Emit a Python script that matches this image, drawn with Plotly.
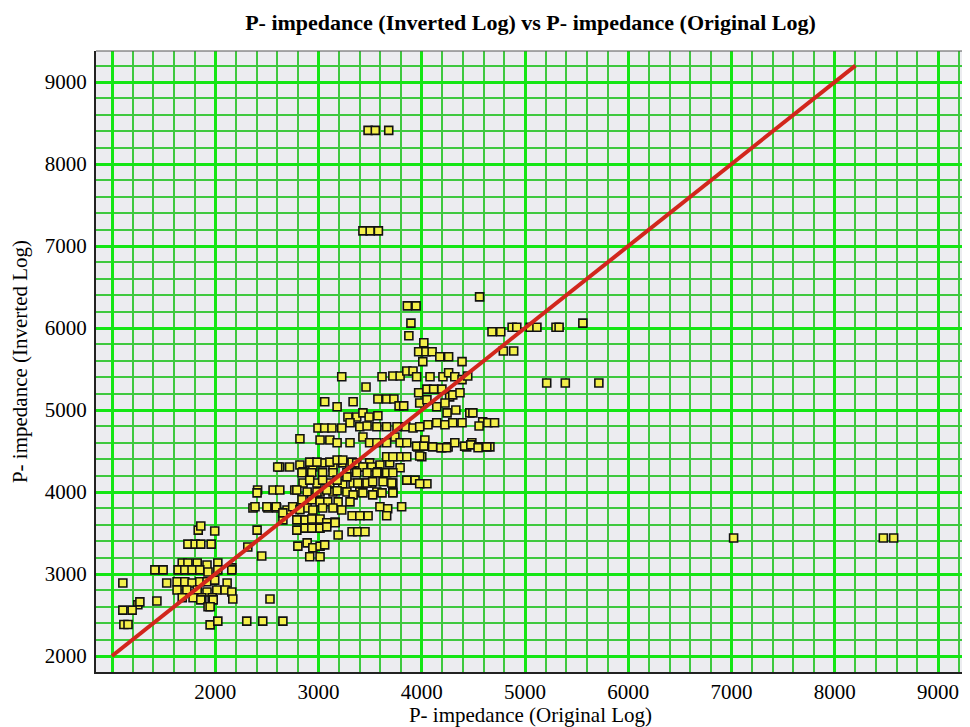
import plotly.graph_objects as go

title_text = "P- impedance (Inverted Log) vs P- impedance (Original Log)"
x_title = "P- impedance (Original Log)"
y_title = "P- impedance (Inverted Log)"

x_tick_vals = [1000, 2000, 3000, 4000, 5000, 6000, 7000, 8000, 9000]
x_tick_text = ["", "2000", "3000", "4000", "5000", "6000", "7000", "8000", "9000"]
y_tick_vals = [2000, 3000, 4000, 5000, 6000, 7000, 8000, 9000]
y_tick_text = ["2000", "3000", "4000", "5000", "6000", "7000", "8000", "9000"]

# reference line (1:1 trend)
line_x = [1000, 8200]
line_y = [2000, 9200]

points = [
    # isolated high points
    (3480, 8410), (3550, 8410), (3680, 8410),
    (3430, 7185), (3500, 7185), (3580, 7185),
    # outliers right
    (7020, 3440), (8470, 3440), (8570, 3440),
    (5210, 5330), (5390, 5330), (5715, 5330),
    (5560, 6060), (5300, 6010), (5330, 6010),
    (5050, 6010), (5115, 6010), (4875, 6010), (4920, 6010),
    (4680, 5955), (4765, 5955), (4790, 5720), (4890, 5720),
    (4560, 6380),
    # upper part of the cluster
    (3860, 6270), (3945, 6270), (3895, 6060), (3875, 5905), (4020, 5820),
    (3970, 5710), (4040, 5710), (4100, 5710), (4175, 5650), (4260, 5650),
    (4010, 5590), (4390, 5590),
    (3225, 5405), (3615, 5405), (3720, 5415), (3790, 5415), (3855, 5475),
    (3915, 5475), (3950, 5405), (4080, 5405), (4205, 5405), (4260, 5455),
    (4320, 5405), (4390, 5370), (4445, 5415), (3460, 5280),
    (3060, 5100), (3180, 5040), (3335, 5100), (3575, 5135), (3660, 5135),
    (3730, 5135), (3780, 5050), (3825, 5050),
    (3970, 5210), (4050, 5255), (4115, 5255), (4195, 5255), (4270, 5160),
    (4300, 5185), (4370, 5210),
    (3980, 5085), (4050, 5125), (4145, 5040), (4225, 5085), (4245, 4965),
    (4330, 5000),
    (3285, 4915), (3370, 4915), (3430, 4965), (3490, 4915), (3575, 4930),
    (3305, 4845), (3400, 4795), (3470, 4805), (3565, 4795), (3660, 4795),
    (3760, 4795), (3845, 4795), (3915, 4780), (3980, 4795), (4060, 4820),
    (4145, 4845), (4225, 4820), (4300, 4845), (4390, 4845), (4465, 4965),
    (4495, 4965), (4590, 4855), (4640, 4845), (4705, 4845), (4555, 4805),
    (2995, 4780), (3060, 4780), (3130, 4780), (3225, 4780),
    (2820, 4650), (3015, 4635), (3110, 4635), (3180, 4600), (3305, 4600),
    (3430, 4670), (3495, 4600), (3565, 4600), (3660, 4600), (3740, 4670),
    (3790, 4600), (3855, 4600),
    (3960, 4550), (4030, 4635), (4105, 4550), (4195, 4540), (4255, 4550),
    (4320, 4600), (4435, 4550), (4485, 4600), (4560, 4550), (4660, 4550),
    (3950, 4560), (4020, 4560), (4185, 4540), (4240, 4540), (4415, 4560),
    (4475, 4575), (4545, 4540), (4630, 4550),
    (4000, 4430), (3980, 4440),
    # middle of the cluster
    (2820, 4330), (2945, 4305), (3040, 4355), (3140, 4305), (3235, 4355),
    (3305, 4330), (3400, 4305), (3495, 4355), (3595, 4330), (3690, 4355),
    (3790, 4430), (3855, 4430), (3660, 4430), (3720, 4430),
    (2625, 4305), (2720, 4305), (2605, 4305),
    (2850, 4245), (2915, 4365), (2985, 4365), (3110, 4365), (3180, 4390),
    (3235, 4390), (3325, 4365), (3370, 4355), (3430, 4305), (3515, 4305),
    (3575, 4245), (3790, 4295),
    (2840, 4235), (2935, 4235), (3040, 4235), (3140, 4235), (3275, 4235),
    (3370, 4235), (3470, 4235), (3565, 4235), (3660, 4235), (3720, 4235),
    (3855, 4145), (3935, 4145), (4050, 4100), (3980, 4100),
    (2850, 4110), (2985, 4110), (3110, 4110), (3235, 4100), (3335, 4110),
    (3430, 4110), (3515, 4110), (3625, 4125), (3720, 4110),
    (2915, 4145), (3040, 4145), (3180, 4145), (3275, 4185),
    (3380, 4110), (3470, 4110), (3525, 4125), (3710, 4110),
    (2770, 4025), (2890, 4000), (3015, 4000), (3140, 4000), (3275, 4000),
    (3400, 4000), (3565, 4000), (3720, 4000),
    (2410, 4025), (2405, 3990), (2560, 4025), (2625, 4025),
    (2790, 4025), (2985, 4000), (3080, 4025), (3180, 4015),
    (3335, 3965), (3430, 3990), (3525, 3965), (3615, 3990), (3720, 3990),
    (2840, 3905), (2935, 3905), (3015, 3880), (3090, 3880), (3190, 3880),
    (3305, 3880),
    (2365, 3805), (2510, 3805), (2595, 3805), (2695, 3780),
    (2800, 3805), (2890, 3805), (2945, 3780), (3040, 3805), (3140, 3805),
    (3225, 3780), (3595, 3820), (3670, 3795), (3805, 3820),
    (2655, 3660), (2790, 3660), (2870, 3660), (2935, 3670), (3015, 3670),
    (3080, 3625), (3160, 3635),
    (3325, 3710), (3400, 3710), (3480, 3710), (3660, 3710),
    (2405, 3535), (2790, 3535), (2870, 3560), (2935, 3560), (3015, 3560),
    (3080, 3575), (3160, 3625),
    (3325, 3515), (3380, 3515), (3450, 3515), (3190, 3475),
    (2800, 3340), (2890, 3380), (2945, 3320), (3015, 3340), (3060, 3355),
    (2450, 3220), (2915, 3210), (3015, 3210),
    (2315, 3330), (2160, 3075),
    # lower-left cluster
    (2385, 3820), (2500, 3820), (2590, 3820), (2655, 3745), (2750, 3820),
    (2820, 3785),
    (1835, 3535), (1995, 3525), (1860, 3585),
    (1735, 3365), (1805, 3365), (1860, 3365), (1960, 3365),
    (1415, 3050), (1495, 3050), (1105, 2890), (1530, 2890),
    (1680, 3135), (1735, 3135), (1825, 3135), (1920, 3110), (2025, 3135),
    (2160, 3050),
    (1640, 3050), (1705, 3050), (1775, 3050), (1850, 3050), (1930, 3025),
    (2025, 3050),
    (1630, 2905), (1705, 2905), (1775, 2890), (1850, 2905), (1920, 2905),
    (1995, 2925), (2115, 2890),
    (1630, 2805), (1725, 2805), (1825, 2805), (1920, 2780), (2015, 2805),
    (2095, 2805), (2160, 2780),
    (1680, 2710), (1785, 2710), (1870, 2710), (1970, 2710), (2170, 2695),
    (2530, 2695), (1860, 2685), (1980, 2685),
    (1250, 2625), (1270, 2660), (1435, 2670),
    (1105, 2560), (1195, 2560), (1930, 2600), (1950, 2600),
    (1115, 2385), (1155, 2385), (1950, 2380), (2025, 2425),
    (2305, 2425), (2460, 2425), (2655, 2425),
]

x_orig = [p[0] for p in points]
y_inv = [p[1] for p in points]

fig = go.Figure()

fig.add_trace(go.Scatter(
    x=x_orig, y=y_inv, mode="markers",
    marker=dict(symbol="square", size=8, color="#f4ef4a",
                line=dict(color="#111111", width=1.6)),
    showlegend=False, hoverinfo="x+y",
))

fig.add_trace(go.Scatter(
    x=line_x, y=line_y, mode="lines",
    line=dict(color="#d2261c", width=4),
    showlegend=False,
))

font_family = "Liberation Serif"

# page body has an 8px margin, so the figure is offset by (8, 8)
fig.update_layout(
    width=962, height=719,
    margin=dict(l=88, r=5, t=43, b=55),
    paper_bgcolor="white",
    plot_bgcolor="#ececf0",
    title=dict(text="<b>" + title_text + "</b>", x=0.5, xanchor="center",
               xref="paper",
               y=1 - 14 / 719, yanchor="middle",
               font=dict(family=font_family, size=22, color="#000000")),
    font=dict(family=font_family, color="#000000", size=21),
)

fig.update_xaxes(
    range=[845, 9261], automargin=False,
    tickmode="array", tickvals=x_tick_vals, ticktext=x_tick_text,
    tickfont=dict(family=font_family, size=21, color="#000000"),
    showgrid=True, gridcolor="#14e614", gridwidth=2.5,
    minor=dict(dtick=200, tick0=0, showgrid=True, gridcolor="#3fc83f", gridwidth=2),
    showline=True, linecolor="#222222", linewidth=2,
    zeroline=False, ticks="",
    title=dict(text=x_title, font=dict(family=font_family, size=21), standoff=0),
)

fig.update_yaxes(
    range=[1805, 9378], automargin=False,
    tickmode="array", tickvals=y_tick_vals, ticktext=y_tick_text,
    tickfont=dict(family=font_family, size=21, color="#000000"),
    showgrid=True, gridcolor="#14e614", gridwidth=2.5,
    minor=dict(dtick=200, tick0=0, showgrid=True, gridcolor="#3fc83f", gridwidth=2),
    showline=True, linecolor="#222222", linewidth=2,
    zeroline=False, ticks="", ticklabelstandoff=3,
    title=dict(text=y_title, font=dict(family=font_family, size=21), standoff=12),
)

fig.add_shape(type="line", xref="paper", yref="paper", x0=0, x1=1, y0=1, y1=1,
              line=dict(color="#555555", width=1))

fig.write_html("out.html")
